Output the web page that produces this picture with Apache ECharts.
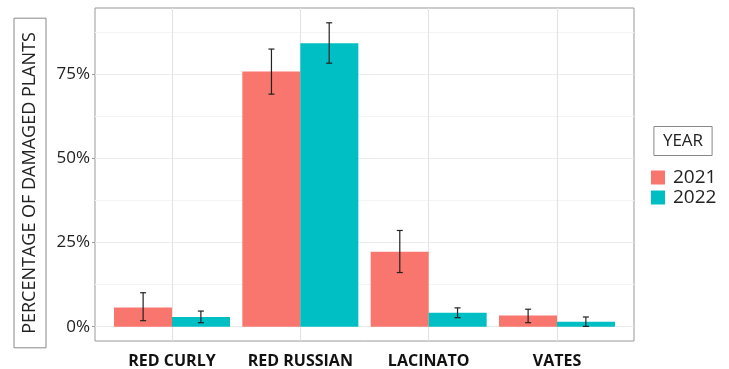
<!DOCTYPE html>
<html>
<head>
<meta charset="utf-8">
<script src="https://cdn.jsdelivr.net/npm/echarts@6/dist/echarts.min.js"></script>
<style>
html,body{margin:0;padding:0;background:#fff;}
#chart{width:729px;height:369px;}
</style>
</head>
<body>
<div id="chart"></div>
<script>
// ---- data ----
const categories = ['RED CURLY', 'RED RUSSIAN', 'LACINATO', 'VATES'];
const years = ['2021', '2022'];
const values2021 = [5.75, 75.8, 22.3, 3.3];
const values2022 = [2.9, 84.2, 4.15, 1.5];
const low2021 = [1.8, 69.1, 16.1, 1.2];
const high2021 = [10.1, 82.5, 28.6, 5.2];
const low2022 = [1.2, 78.3, 2.7, 0.1];
const high2022 = [4.65, 90.3, 5.6, 2.9];
const yTicks = [0, 25, 50, 75];
const yMinorTicks = [12.5, 37.5, 62.5, 87.5];

const FONT = "'Open Sans', sans-serif";
const COLORS = ['#F8766D', '#00BFC4'];
const DODGE = 0.225;
const catPos = categories.map((c, i) => i + 1);

function barData(vals) { return vals.map((v, i) => [catPos[i], v]); }
function errData(lo, hi) { return lo.map((l, i) => [catPos[i], l, hi[i]]); }

function errSeries(lo, hi, sign) {
  return {
    type: 'custom',
    z: 5,
    silent: true,
    clip: false,
    encode: { x: 0, y: [1, 2] },
    data: errData(lo, hi),
    renderItem: function (params, api) {
      const x = api.value(0) + sign * DODGE;
      const a = api.coord([x, api.value(1)]);
      const b = api.coord([x, api.value(2)]);
      const w = 3;
      const st = { stroke: '#222', lineWidth: 1.2 };
      return {
        type: 'group',
        children: [
          { type: 'line', shape: { x1: a[0], y1: a[1], x2: b[0], y2: b[1] }, style: st },
          { type: 'line', shape: { x1: a[0] - w, y1: a[1], x2: a[0] + w, y2: a[1] }, style: st },
          { type: 'line', shape: { x1: b[0] - w, y1: b[1], x2: b[0] + w, y2: b[1] }, style: st }
        ]
      };
    }
  };
}

const gridLines = [];
yTicks.forEach(v => gridLines.push({ yAxis: v, lineStyle: { color: '#EBEBEB', width: 1.2, type: 'solid' } }));
yMinorTicks.forEach(v => gridLines.push({ yAxis: v, lineStyle: { color: '#F4F4F4', width: 1, type: 'solid' } }));
catPos.forEach(v => gridLines.push({ xAxis: v, lineStyle: { color: '#E4E4E4', width: 1.2, type: 'solid' } }));

const chart = echarts.init(document.getElementById('chart'), null, { renderer: 'canvas' });
chart.setOption({
  animation: false,
  backgroundColor: '#fff',
  textStyle: { fontFamily: FONT },
  grid: { left: 95, right: 95, top: 8, bottom: 27, show: true, borderColor: '#999', borderWidth: 1, backgroundColor: 'transparent' },
  xAxis: {
    type: 'value',
    min: 0.4, max: 4.6,
    axisLine: { show: false },
    splitLine: { show: false },
    axisTick: { show: true, customValues: catPos, length: 3, lineStyle: { color: '#999' } },
    axisLabel: {
      customValues: catPos,
      margin: 12,
      fontFamily: FONT, fontSize: 16, fontWeight: 'bold', color: '#111',
      formatter: v => categories[Math.round(v) - 1] || ''
    }
  },
  yAxis: {
    type: 'value',
    min: -4.24, max: 94.7,
    axisLine: { show: false },
    splitLine: { show: false },
    axisTick: { show: true, customValues: yTicks, length: 3, lineStyle: { color: '#999' } },
    axisLabel: {
      customValues: yTicks,
      margin: 5,
      fontFamily: FONT, fontSize: 17, color: '#222',
      formatter: v => v + '%'
    }
  },
  legend: {
    orient: 'vertical',
    left: 651, top: 168,
    padding: 0,
    itemWidth: 14, itemHeight: 14, itemGap: 1,
    icon: 'rect',
    data: years,
    textStyle: { fontFamily: FONT, fontSize: 19, color: '#222', lineHeight: 14, padding: [0, 0, 0, 3] }
  },
  graphic: [
    {
      type: 'text', x: 30, y: 183, rotation: Math.PI / 2,
      style: {
        text: 'PERCENTAGE OF DAMAGED PLANTS',
        font: '18px ' + FONT, fill: '#222',
        align: 'center', verticalAlign: 'middle',
        borderColor: '#888', borderWidth: 1, padding: [7, 14, 7, 14]
      }
    },
    {
      type: 'text', x: 683, y: 141,
      style: {
        text: 'YEAR',
        font: '17px ' + FONT, fill: '#222',
        align: 'center', verticalAlign: 'middle',
        borderColor: '#888', borderWidth: 1, padding: [6, 9, 6, 9]
      }
    }
  ],
  series: [
    {
      type: 'line', data: [], silent: true, z: 1,
      markLine: { silent: true, symbol: 'none', label: { show: false }, z: 1, data: gridLines }
    },
    { name: years[0], type: 'bar', z: 3, barWidth: 58, barGap: '0%', itemStyle: { color: COLORS[0] }, data: barData(values2021) },
    { name: years[1], type: 'bar', z: 3, barWidth: 58, barGap: '0%', itemStyle: { color: COLORS[1] }, data: barData(values2022) },
    errSeries(low2021, high2021, -1),
    errSeries(low2022, high2022, 1)
  ]
});
</script>
</body>
</html>
